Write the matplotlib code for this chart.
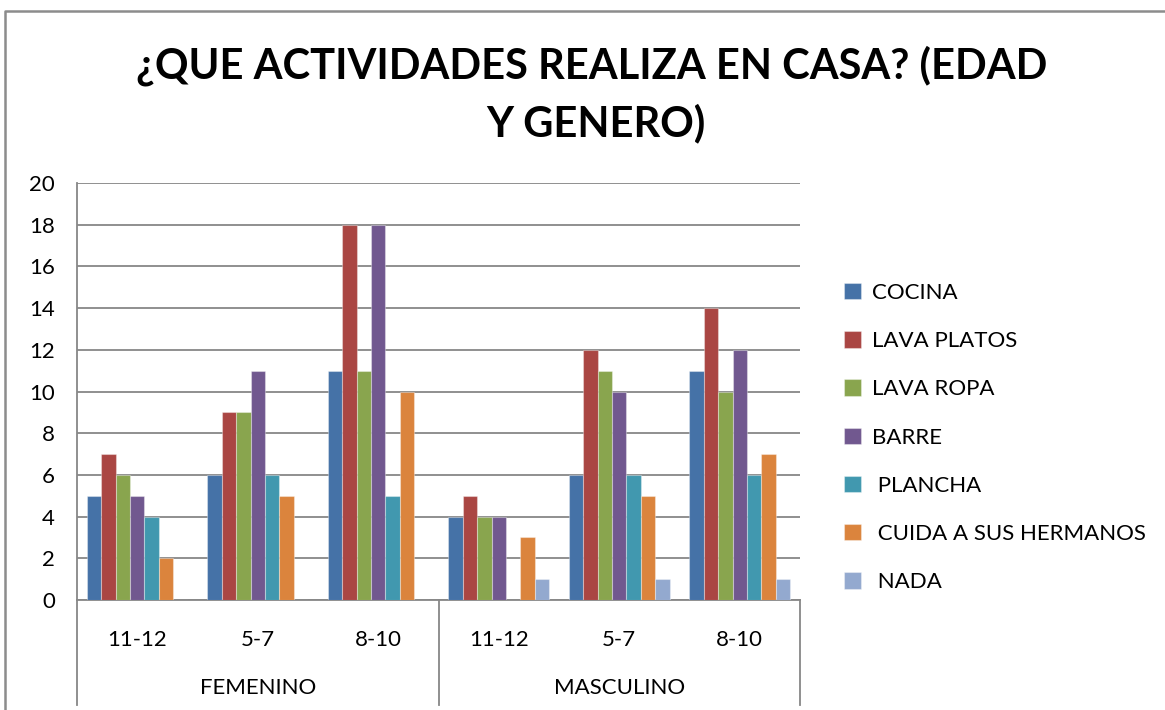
import matplotlib
matplotlib.use("Agg")
import matplotlib.pyplot as plt
from matplotlib.lines import Line2D
import numpy as np

# ---- data ----
ages = ["11-12", "5-7", "8-10", "11-12", "5-7", "8-10"]
genders = ["FEMENINO", "MASCULINO"]
series_names = ["COCINA", "LAVA PLATOS", "LAVA ROPA", "BARRE", " PLANCHA", " CUIDA A SUS HERMANOS", " NADA"]
cocina = [5, 6, 11, 4, 6, 11]
lava_platos = [7, 9, 18, 5, 12, 14]
lava_ropa = [6, 9, 11, 4, 11, 10]
barre = [5, 11, 18, 4, 10, 12]
plancha = [4, 6, 5, 0, 6, 6]
cuida = [2, 5, 10, 3, 5, 7]
nada = [0, 0, 0, 1, 1, 1]
colors = ["#4572A7", "#AA4643", "#89A54E", "#71588F", "#4198AF", "#DB843D", "#93A9CF"]
yticks = [0, 2, 4, 6, 8, 10, 12, 14, 16, 18, 20]

series = [cocina, lava_platos, lava_ropa, barre, plancha, cuida, nada]

FONT = "Lato"
FS = 16
W, H = 1165, 710
fig = plt.figure(figsize=(W / 100, H / 100), dpi=100)

def px(x0, y0, x1, y1):
    return [x0 / W, 1 - y1 / H, (x1 - x0) / W, (y1 - y0) / H]

ax = fig.add_axes(px(77, 183, 800, 600))
grid_c = "#878787"

x = np.arange(len(ages))
w = 0.12
bars = []
for i, (vals, c, name) in enumerate(zip(series, colors, series_names)):
    b = ax.bar(x + (i - 3) * w, vals, width=w, color=c, edgecolor=(1, 1, 1, 0.35),
               linewidth=0.8, label=name, zorder=3)
    bars.append(b)

ax.set_xlim(-0.5, len(ages) - 0.5)
ax.set_ylim(0, 20)
ax.set_yticks(yticks)
ax.set_yticklabels([str(t) for t in yticks], fontsize=FS, fontfamily=FONT)
ax.tick_params(axis="y", length=0, pad=16)
ax.yaxis.grid(True, color=grid_c, linewidth=1.3, zorder=0)
ax.set_axisbelow(True)
for s in ["top", "right"]:
    ax.spines[s].set_visible(False)
for s in ["left", "bottom"]:
    ax.spines[s].set_color(grid_c)
    ax.spines[s].set_linewidth(1.3)

# multi-level category axis
ax.set_xticks([])
yb = (600 - 705) / 417
for xv in [-0.5, 2.5, 5.5]:
    ax.plot([xv, xv], [0, yb], transform=ax.get_xaxis_transform(), color=grid_c,
            linewidth=1.3, clip_on=False)
for xi, lab in zip(x, ages):
    ax.text(xi, (600 - 640) / 417, lab, transform=ax.get_xaxis_transform(),
            ha="center", va="center", fontsize=FS, fontfamily=FONT)
for gi, g in enumerate(genders):
    ax.text(1 + 3 * gi, (600 - 688) / 417, g, transform=ax.get_xaxis_transform(),
            ha="center", va="center", fontsize=FS, fontfamily=FONT)

# title
fig.text(592 / W, 1 - 66 / H, "¿QUE ACTIVIDADES REALIZA EN CASA? (EDAD", ha="center", va="center",
         fontsize=30, fontweight="bold", fontfamily=FONT)
fig.text(596 / W, 1 - 123 / H, "Y GENERO)", ha="center", va="center",
         fontsize=30, fontweight="bold", fontfamily=FONT)

# legend
leg = fig.legend(handles=bars, labels=series_names, loc="upper left",
                 bbox_to_anchor=(835 / W, 1 - 274 / H), frameon=False,
                 prop={"family": FONT, "size": FS}, handlelength=0.75, handleheight=0.75,
                 handletextpad=0.5, labelspacing=1.27, borderaxespad=0)

# outer chart frame
fig.add_artist(Line2D([5 / W, 5 / W, 1.0], [0, 1 - 11 / H, 1 - 11 / H],
                      transform=fig.transFigure, color="#8c8c8c", linewidth=1.8))

fig.savefig("out.png", dpi=100)
